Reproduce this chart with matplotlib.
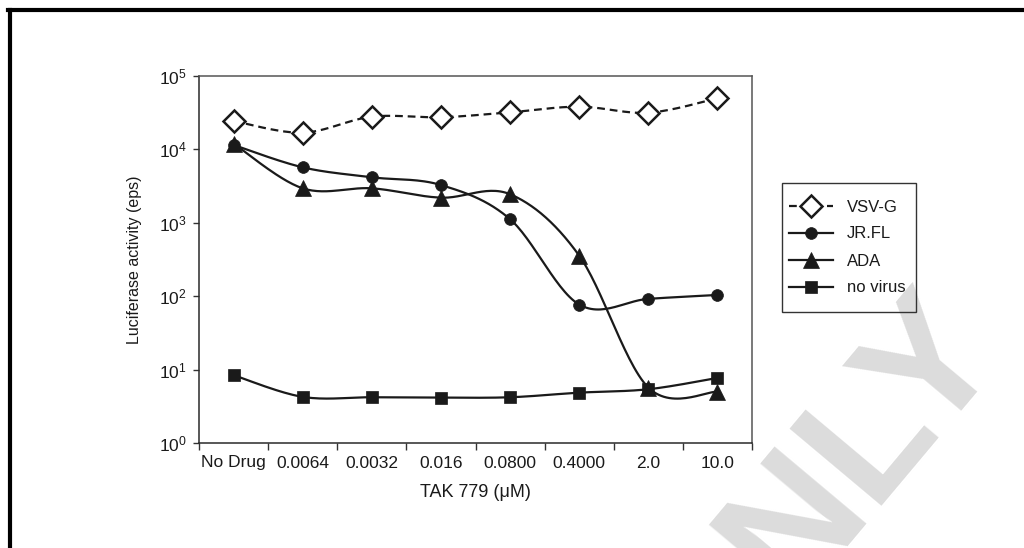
import numpy as np
import matplotlib
matplotlib.use('Agg')
import matplotlib.pyplot as plt
from matplotlib.lines import Line2D
from matplotlib.patches import Rectangle
from matplotlib.ticker import FixedLocator, NullLocator, LogLocator, LogFormatterMathtext, NullFormatter

plt.rcParams['font.family'] = ['Liberation Sans', 'DejaVu Sans']
plt.rcParams['mathtext.default'] = 'regular'

categories = ["No Drug", "0.0064", "0.0032", "0.016", "0.0800", "0.4000", "2.0", "10.0"]
series_names = ["VSV-G", "JR.FL", "ADA", "no virus"]
vsvg = [24400, 16900, 27900, 27400, 32000, 38200, 31600, 49700]
jrfl = [11500, 5700, 4170, 3270, 1120, 77, 92, 104]
ada = [12000, 2950, 2950, 2200, 2450, 357, 5.7, 5.0]
novirus = [8.4, 4.25, 4.2, 4.15, 4.2, 4.85, 5.4, 7.7]

N_SEG = 30


def smooth(xs, ys, n=N_SEG):
    """Excel-like Bezier smoothing through the data points (in x, log10 y)."""
    P = np.column_stack([np.asarray(xs, float), np.log10(np.asarray(ys, float))])
    m = len(P)
    t = np.linspace(0, 1, n)[1:]
    out = [P[0]]
    for i in range(m - 1):
        p0, p3 = P[i], P[i + 1]
        pm = P[i - 1] if i > 0 else P[i]
        pp = P[i + 2] if i + 2 < m else P[i + 1]
        c1 = p0 + (p3 - pm) / 6.0
        c2 = p3 - (pp - p0) / 6.0
        seg = (((1 - t) ** 3)[:, None] * p0 + (3 * (1 - t) ** 2 * t)[:, None] * c1
               + (3 * (1 - t) * t ** 2)[:, None] * c2 + (t ** 3)[:, None] * p3)
        out.extend(seg)
    out = np.array(out)
    return out[:, 0], 10 ** out[:, 1]


fig = plt.figure(figsize=(10.24, 5.48), dpi=100)
W, H = 1024, 548

# watermark (behind everything)
fig.text(1005 / W, 1 - 350 / H, "ONLY", rotation=50, rotation_mode='anchor',
         ha='right', va='baseline', fontsize=125, fontweight='bold',
         color='#dcdcdc', zorder=0)

# page border (left and top)
fig.add_artist(Line2D([10 / W, 10 / W], [0, 1 - 9.5 / H], color='black', lw=3, zorder=5))
fig.add_artist(Line2D([8 / W, 1], [1 - 9.5 / H, 1 - 9.5 / H], color='black', lw=3, zorder=5))

ax = fig.add_axes([199 / W, 1 - 443 / H, 553 / W, 367 / H])
ax.set_facecolor('none')

x = np.arange(len(categories))
ink = '#1a1a1a'
styles = [
    dict(data=vsvg, ls=(0, (3.5, 2.2)), marker='D', ms=11.5, mfc='white', mew=1.8),
    dict(data=jrfl, ls='-', marker='o', ms=8.5, mfc=ink, mew=0.5),
    dict(data=ada, ls='-', marker='^', ms=11, mfc=ink, mew=0.5),
    dict(data=novirus, ls='-', marker='s', ms=9, mfc=ink, mew=0.5),
]
handles = []
for name, st in zip(series_names, styles):
    sx, sy = smooth(x, st['data'])
    ln, = ax.plot(sx, sy, color=ink, lw=1.6, ls=st['ls'], marker=st['marker'],
                  ms=st['ms'], mfc=st['mfc'], mec=ink, mew=st['mew'],
                  markevery=N_SEG - 1, label=name, solid_joinstyle='round')
    handles.append(ln)

ax.set_yscale('log')
ax.set_ylim(1, 1e5)
ax.set_xlim(-0.5, len(categories) - 0.5)
ax.yaxis.set_major_locator(LogLocator(base=10, numticks=10))
ax.yaxis.set_major_formatter(LogFormatterMathtext())
ax.yaxis.set_minor_locator(NullLocator())

ax.xaxis.set_major_locator(FixedLocator(np.arange(-0.5, len(categories), 1.0)))
ax.xaxis.set_major_formatter(NullFormatter())
ax.xaxis.set_minor_locator(FixedLocator(x))
ax.set_xticklabels(categories, minor=True)
ax.tick_params(axis='x', which='major', direction='out', length=5, width=1, color='#333333')
ax.tick_params(axis='x', which='minor', length=0, pad=9, labelsize=12.5, labelcolor='#1a1a1a')
ax.tick_params(axis='y', which='major', direction='out', length=4, width=1, color='#333333',
               labelsize=12.5, pad=5, labelcolor='#1a1a1a')

for s in ['left', 'bottom']:
    ax.spines[s].set_color('#2a2a2a')
    ax.spines[s].set_linewidth(1.1)
for s in ['top', 'right']:
    ax.spines[s].set_color('#555555')
    ax.spines[s].set_linewidth(1.1)

ax.set_xlabel("TAK 779 (\u03bcM)", fontsize=13, color='#1a1a1a', labelpad=10)
ax.set_ylabel("Luciferase activity (eps)", fontsize=11.5, color='#1a1a1a', labelpad=12)

# legend box (frame drawn separately to get the reference's proportions)
fig.add_artist(Rectangle((782 / W, 1 - 312 / H), 134 / W, 129 / H, transform=fig.transFigure,
                         facecolor='none', edgecolor='#333333', lw=1.0, zorder=3))
leg = fig.legend(handles=handles, loc='upper left', bbox_to_anchor=(789 / W, 1 - 199.5 / H),
                 bbox_transform=fig.transFigure, borderaxespad=0, borderpad=0, numpoints=1,
                 frameon=False, fontsize=12, handlelength=2.64, handletextpad=0.85,
                 labelspacing=0.72)
for t in leg.get_texts():
    t.set_color('#1a1a1a')

fig.savefig('out.png', dpi=100)
